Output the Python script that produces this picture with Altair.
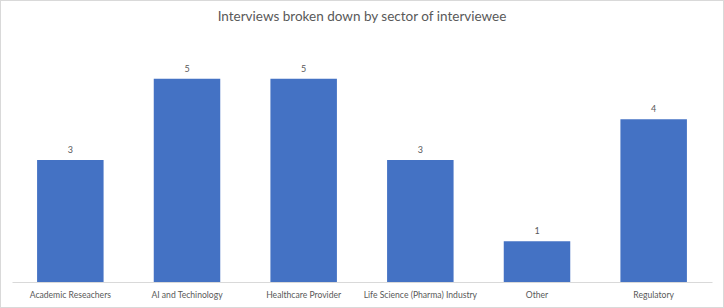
import altair as alt
import pandas as pd

categories = ["Academic Reseachers", "AI and Techinology", "Healthcare Provider",
              "Life Science (Pharma) Industry", "Other", "Regulatory"]
counts = [3, 5, 5, 3, 1, 4]
title_text = "Interviews broken down by sector of interviewee"

df = pd.DataFrame({"sector": categories, "count": counts})

W, H = 700, 244
PL, PT, PR, PB = 12, 38, 12, 26

x = alt.X("sector:N", sort=categories, title=None,
          scale=alt.Scale(paddingInner=0.43, paddingOuter=0.215),
          axis=alt.Axis(labelAngle=0, ticks=False, domainColor="#D9D9D9",
                        labelColor="#595959", labelFontSize=8.6, labelPadding=8,
                        labelFont="Lato", labelLimit=200))
y = alt.Y("count:Q", title=None, scale=alt.Scale(domain=[0, 6], nice=False),
          axis=None)

bars = alt.Chart(df).mark_bar(color="#4472C4").encode(x=x, y=y)
labels = alt.Chart(df).mark_text(dy=-10, fontSize=9, color="#595959",
                                 font="Lato").encode(x=x, y=y, text="count:Q")

border = alt.Chart(df).mark_rect(fill="transparent", stroke="#D9D9D9", strokeWidth=1).encode(
    x=alt.value(-PL + 0.5), x2=alt.value(W + PR - 0.5),
    y=alt.value(-PT + 0.5), y2=alt.value(H + PB - 0.5))

title = alt.Chart(pd.DataFrame({"t": [title_text]})).mark_text(
    font="Lato", fontSize=13.5, color="#595959", baseline="middle", align="center"
).encode(x=alt.value(W / 2), y=alt.value(-21), text="t:N")

chart = alt.layer(border, bars, labels, title).properties(
    width=W, height=H, background="white",
    padding={"left": PL, "top": PT, "right": PR, "bottom": PB},
    autosize=alt.AutoSizeParams(type="none"),
).configure_view(stroke="transparent", strokeWidth=0)

chart.save("out.html", embed_options={"renderer": "svg", "actions": False})
